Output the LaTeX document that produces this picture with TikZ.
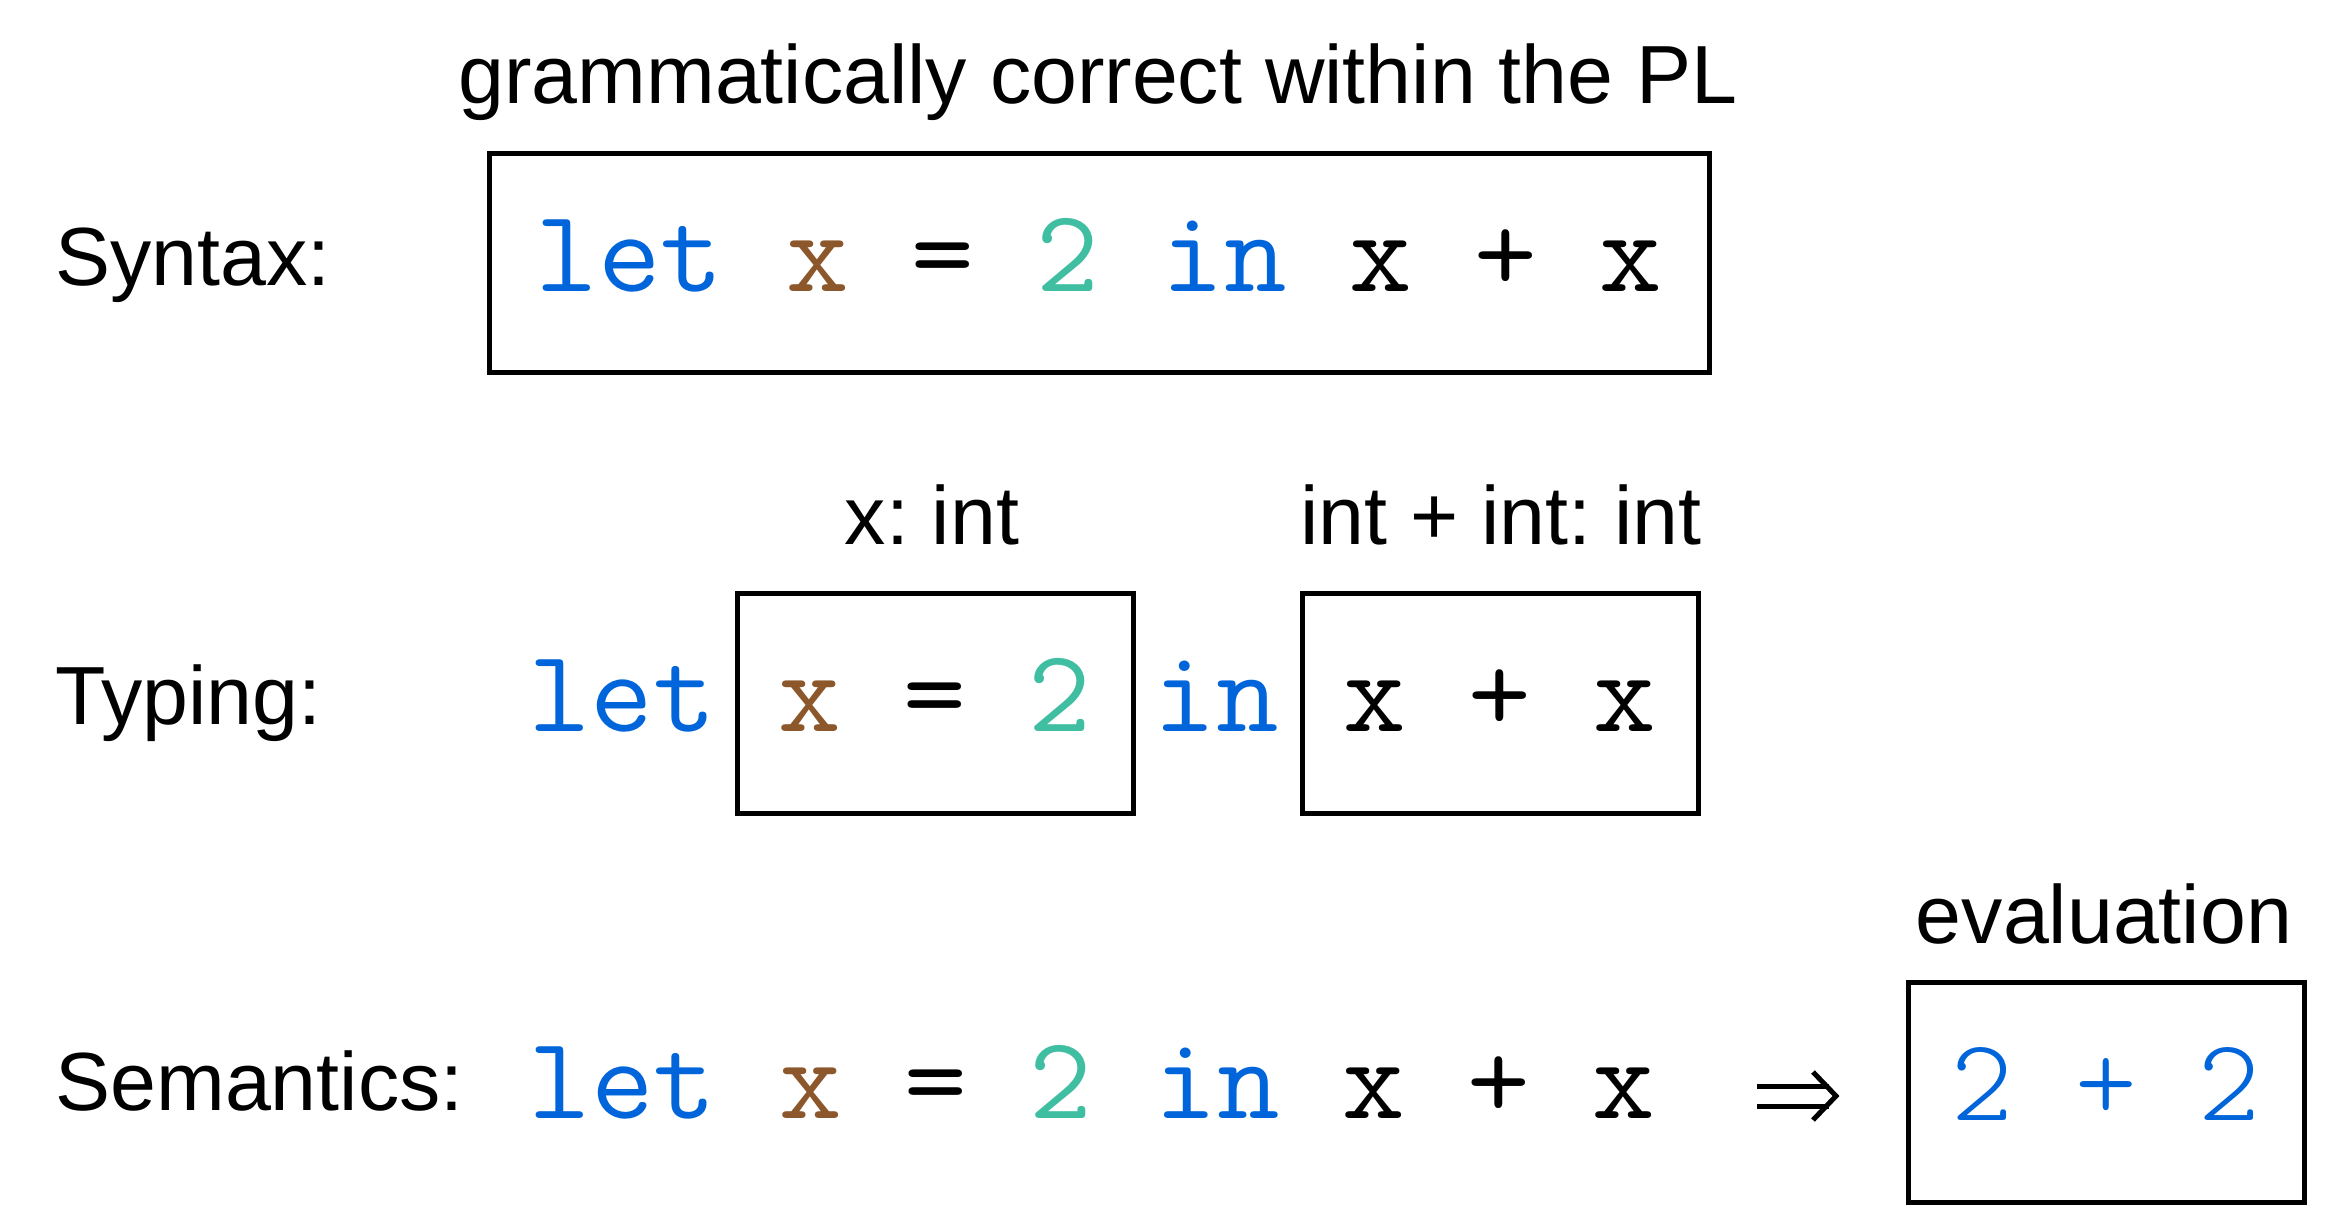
\documentclass[tikz,border=0pt]{standalone}
\usepackage{fontspec}
\setmainfont{Liberation Sans}
\usepackage{graphicx}
\definecolor{kwblue}{RGB}{0,100,218}
\definecolor{varbrown}{RGB}{140,87,42}
\definecolor{numteal}{RGB}{64,190,162}
\newcommand{\lblfont}{\fontsize{41.25pt}{50pt}\selectfont\frenchspacing}
\newcommand{\codefont}{\fontsize{58.7pt}{70pt}\selectfont\ttfamily}
\newcommand{\kw}[1]{\textcolor{kwblue}{#1}}
\newcommand{\vr}[1]{\textcolor{varbrown}{#1}}
\newcommand{\nm}[1]{\textcolor{numteal}{#1}}
\newcommand{\wide}[1]{\scalebox{1.035}[1]{#1}}
\tikzset{
  lbl/.style={font=\lblfont, inner sep=0pt, anchor=base west},
  caption/.style={font=\lblfont, inner sep=0pt, anchor=base},
  codebox/.style={draw, line width=2.5pt, inner sep=0pt, font=\codefont, text height=40pt, text depth=12pt},
  codetext/.style={font=\codefont, inner sep=0pt, anchor=base},
  arrowsym/.style={line width=2.5pt}
}
\begin{document}
\begin{tikzpicture}[x=0.5pt,y=-0.5pt]
\useasboundingbox[fill=white] (0,0) rectangle (2326,1226);
% Syntax row
\node[caption] (title) at (1098,103) {grammatically correct within the PL};
\node[lbl] (syn) at (55,285) {Syntax:};
\node[codebox, minimum width=610pt, minimum height=109.5pt] (box1) at (1099,263)
  {\wide{\kw{let} \vr{x} = \nm{2} \kw{in} x + x}};
% Typing row
\node[lbl] (typ) at (55,724) {Typing:};
\node[caption] (xint) at (932,544) {x: int};
\node[caption] (plusint) at (1501,544) {int + int: int};
\node[codetext] (tlet) at (622,731) {\wide{\kw{let}}};
\node[codebox, minimum width=198pt, minimum height=110pt] (box2) at (935,703)
  {\wide{\vr{x} = \nm{2}}};
\node[codetext] (tin) at (1216,731) {\wide{\kw{in}}};
\node[codebox, minimum width=198pt, minimum height=110pt] (box3) at (1500,703)
  {\wide{x + x}};
% Semantics row
\node[lbl] (sem) at (55,1110) {Semantics:};
\node[codetext] (scode) at (1092,1118) {\wide{\kw{let} \vr{x} = \nm{2} \kw{in} x + x}};
\coordinate (arrowtip) at (1836,1096);
\draw[arrowsym] (1757,1086) -- (1829,1086);
\draw[arrowsym] (1757,1106) -- (1829,1106);
\draw[arrowsym, miter limit=10] (1813,1072) -- (arrowtip) -- (1813,1120);
\node[caption] (evl) at (2104,943) {evaluation};
\node[codebox, minimum width=198pt, minimum height=110pt] (box4) at (2106,1092)
  {\fontseries{l}\selectfont\kw{2 + 2}};
\end{tikzpicture}
\end{document}
